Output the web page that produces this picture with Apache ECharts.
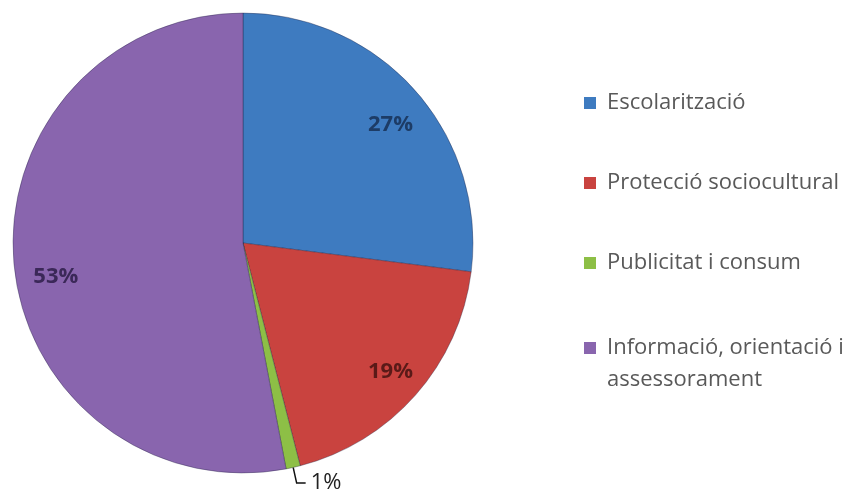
<!DOCTYPE html>
<html>
<head>
<meta charset="utf-8">
<script src="https://cdn.jsdelivr.net/npm/echarts@6/dist/echarts.min.js"></script>
<style>
html,body{margin:0;padding:0;background:#fff;}
#chart{width:863px;height:494px;}
</style>
</head>
<body>
<div id="chart"></div>
<script>
const categories = ['Escolarització', 'Protecció sociocultural', 'Publicitat i consum', 'Informació, orientació i assessorament'];
const values = [27, 19, 1, 53];
const legendLabels = ['Escolarització', 'Protecció sociocultural', 'Publicitat i consum', 'Informació, orientació i\nassessorament'];
const colors = ['#3E7BC0', '#C9433F', '#8DBF46', '#8965AE'];
const labelColors = ['#1D3C66', '#5A1A18', '#3E5A1C', '#3B2858'];
const labelNudges = [[2, 10], [2, 0], [0, 0], [6, 15]];

const chart = echarts.init(document.getElementById('chart'), null, {renderer: 'canvas'});
const font = '"Open Sans", sans-serif';

const legendText = {fontFamily: font, fontSize: 22, color: '#595959', lineHeight: 32, padding: [0, 0, 0, 6]};

const option = {
  backgroundColor: '#ffffff',
  animation: false,
  legend: [
    {
      orient: 'vertical', left: 584, top: 87, padding: 0,
      itemWidth: 12, itemHeight: 12, itemGap: 48,
      icon: 'rect',
      itemStyle: {borderWidth: 0},
      data: categories.slice(0, 3),
      formatter: (n) => legendLabels[categories.indexOf(n)],
      textStyle: legendText,
      selectedMode: false
    },
    {
      orient: 'vertical', left: 584, top: 332, padding: 0,
      itemWidth: 12, itemHeight: 44,
      itemStyle: {borderWidth: 0},
      data: [{name: categories[3], icon: 'path://M0,0h12v12h-12z M6,43.99h0.01v0.01h-0.01z'}],
      formatter: (n) => legendLabels[categories.indexOf(n)],
      textStyle: legendText,
      selectedMode: false
    }
  ],
  series: [
    {
      type: 'pie',
      center: [243, 243],
      radius: 230,
      startAngle: 90,
      clockwise: true,
      avoidLabelOverlap: false,
      emphasis: {disabled: true},
      itemStyle: {borderColor: 'rgba(30,30,60,0.35)', borderWidth: 1},
      label: {position: 'outside', formatter: '{c}%', fontFamily: font, fontSize: 22, color: '#222', distanceToLabelLine: 5},
      labelLine: {length: 16, length2: 9, lineStyle: {color: '#111', width: 1.5}},
      data: categories.map((n, i) => ({
        name: n, value: values[i],
        itemStyle: {color: colors[i]},
        label: {show: i === 2},
        labelLine: {show: i === 2}
      }))
    },
    {
      type: 'pie',
      center: [243, 243],
      radius: [152, 230],
      startAngle: 90,
      clockwise: true,
      silent: true,
      avoidLabelOverlap: false,
      emphasis: {disabled: true},
      itemStyle: {color: 'rgba(0,0,0,0)', borderWidth: 0},
      label: {position: 'inside', formatter: '{c}%', fontFamily: font, fontSize: 22, fontWeight: 'bold'},
      labelLine: {show: false},
      data: categories.map((n, i) => ({
        name: n, value: values[i],
        label: {show: i !== 2, color: labelColors[i], offset: labelNudges[i]}
      }))
    }
  ]
};
chart.setOption(option);
</script>
</body>
</html>
